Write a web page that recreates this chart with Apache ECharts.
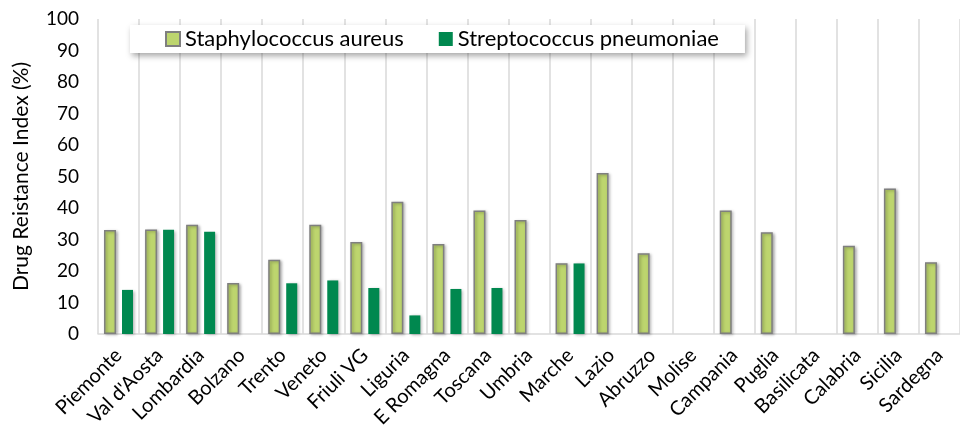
<!DOCTYPE html>
<html>
<head>
<meta charset="utf-8">
<script src="https://cdn.jsdelivr.net/npm/echarts@6/dist/echarts.min.js"></script>
<style>
  html, body { margin: 0; padding: 0; background: #fff; }
  #chart { width: 960px; height: 431px; }
</style>
</head>
<body>
<div id="chart"></div>
<script>
// regioni
var regions = ['Piemonte', "Val d'Aosta", 'Lombardia', 'Bolzano', 'Trento', 'Veneto', 'Friuli VG',
  'Liguria', 'E Romagna', 'Toscana', 'Umbria', 'Marche', 'Lazio', 'Abruzzo', 'Molise',
  'Campania', 'Puglia', 'Basilicata', 'Calabria', 'Sicilia', 'Sardegna'];
// valori (%)
var staphAureus = [33, 33.2, 34.7, 16.2, 23.6, 34.7, 29.2, 42, 28.6, 39.2, 36.2, 22.5, 51.1, 25.6, null,
  39.2, 32.3, null, 28, 46.2, 22.8];
var streptPneumo = [14, 33.1, 32.5, null, 16.1, 17, 14.6, 5.9, 14.3, 14.6, null, 22.4, null, null, null,
  null, null, null, null, null, null];
var yTicks = [0, 10, 20, 30, 40, 50, 60, 70, 80, 90, 100];

var font = 'Lato';
var myChart = echarts.init(document.getElementById('chart'));
var option = {
  animation: false,
  textStyle: { fontFamily: font },
  grid: { left: 98, right: -6, top: 19, bottom: 97 },
  legend: {
    left: 130, top: 25,
    padding: [3, 26, 3, 35],
    itemGap: 35,
    itemWidth: 14, itemHeight: 14,
    icon: 'rect',
    backgroundColor: '#fff',
    shadowBlur: 6, shadowColor: 'rgba(0,0,0,0.35)', shadowOffsetX: 2, shadowOffsetY: 3,
    textStyle: { fontFamily: font, fontSize: 22, color: '#000' },
    data: ['Staphylococcus aureus', 'Streptococcus pneumoniae']
  },
  xAxis: {
    type: 'category',
    data: regions,
    axisLine: { lineStyle: { color: '#d9d9d9', width: 1.5 } },
    axisTick: { show: false },
    splitLine: { show: true, lineStyle: { color: '#d9d9d9', width: 1.5 } },
    axisLabel: {
      rotate: 45, interval: 0, margin: 18,
      fontFamily: font, fontSize: 20, color: '#000'
    }
  },
  yAxis: {
    type: 'value',
    min: yTicks[0], max: yTicks[yTicks.length - 1], interval: 10,
    name: 'Drug Reistance Index (%)',
    nameLocation: 'middle',
    nameGap: 66,
    nameTextStyle: { fontFamily: font, fontSize: 21, color: '#000' },
    axisLine: { show: false },
    axisTick: { show: false },
    splitLine: { show: false },
    axisLabel: { fontFamily: font, fontSize: 19, color: '#000', margin: 19 }
  },
  series: [
    {
      name: 'Staphylococcus aureus',
      type: 'bar',
      data: staphAureus,
      barWidth: 12,
      barGap: '50%',
      itemStyle: {
        color: '#bdd56e', borderColor: '#7f7f7f', borderWidth: 1.5,
        shadowBlur: 3, shadowColor: 'rgba(0,0,0,0.3)', shadowOffsetX: 1.5, shadowOffsetY: 1
      }
    },
    {
      name: 'Streptococcus pneumoniae',
      type: 'bar',
      data: streptPneumo,
      barWidth: 11,
      itemStyle: {
        color: '#00884f',
        shadowBlur: 3, shadowColor: 'rgba(0,0,0,0.3)', shadowOffsetX: 1.5, shadowOffsetY: 1
      }
    }
  ]
};
myChart.setOption(option);
</script>
</body>
</html>
